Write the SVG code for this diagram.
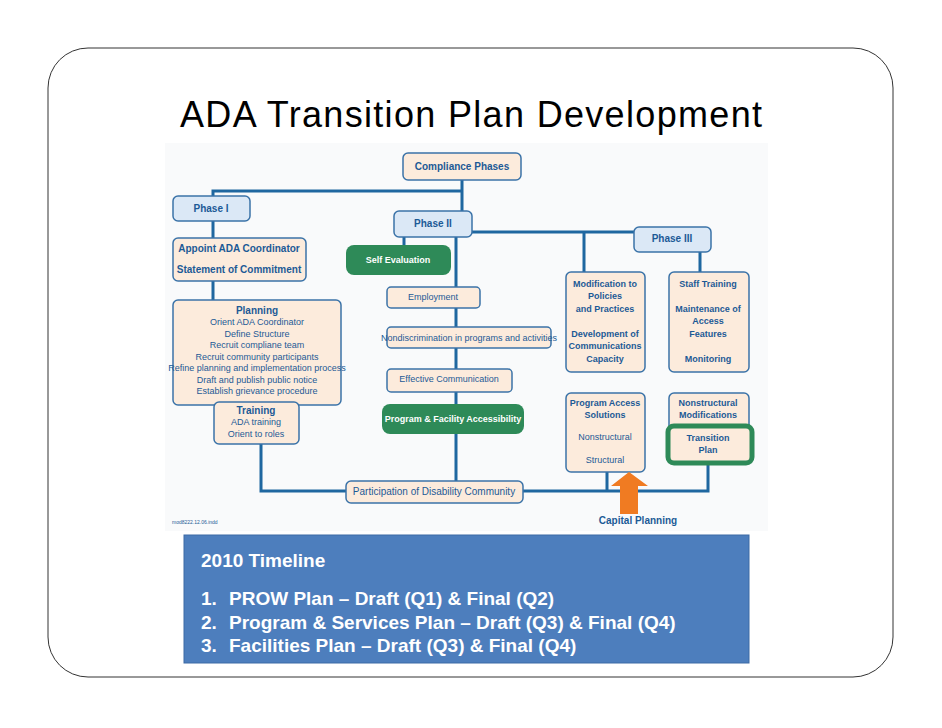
<svg xmlns="http://www.w3.org/2000/svg" width="942" height="728" viewBox="0 0 942 728">
<style>
.ln{stroke:#1f67a0;stroke-width:3;fill:none}
.bx{fill:#fcebdc;stroke:#3b73a8;stroke-width:1.5}
.ph{fill:#dbe8f6;stroke:#3b73a8;stroke-width:1.5}
.gr{fill:#2e8a58;stroke:none}
text{font-family:"Liberation Sans Narrow","Liberation Sans",Arial,sans-serif;fill:#1c5a96;text-anchor:middle}
.b{font-weight:bold}
.s{font-size:9px}
.m{font-size:10px}
.w{fill:#fff;font-weight:bold;font-family:"Liberation Sans",Arial,sans-serif;font-size:9px}
.tl{font-family:"Liberation Sans",Arial,sans-serif;fill:#fff;font-weight:bold;font-size:19px;text-anchor:start}
</style>
<rect x="0" y="0" width="942" height="728" fill="#fff"/>
<rect x="48" y="48" width="845" height="629" rx="40" fill="#fff" stroke="#333" stroke-width="1"/>
<text x="471" y="127" style="font-family:'Liberation Sans',Arial,sans-serif;font-size:36px;fill:#000" textLength="582">ADA Transition Plan Development</text>
<rect x="165" y="143" width="603" height="388" fill="#f9fafb"/>
<g id="connectors">
<path class="ln" d="M462 180V211M213 196V191H462M213 221V238M213 281V300M261 444V491H346M404 237V245M456 237V481M472 232H634M584 232V272M700 252V272M523 491H708V464M607 472V491"/>
</g>
<g id="compliance"><rect class="bx" x="403" y="153" width="118" height="27" rx="5"/><text class="b m" x="462" y="170">Compliance Phases</text></g>
<g id="phase1"><rect class="ph" x="173" y="196" width="77" height="25" rx="5"/><text class="b m" x="211" y="212">Phase I</text></g>
<g id="phase2"><rect class="ph" x="394" y="211" width="78" height="26" rx="5"/><text class="b m" x="433" y="227">Phase II</text></g>
<g id="phase3"><rect class="ph" x="634" y="227" width="77" height="25" rx="5"/><text class="b m" x="672" y="242">Phase III</text></g>
<g id="appoint"><rect class="bx" x="173" y="238" width="133" height="43" rx="5"/><text class="b m" x="239" y="252">Appoint ADA Coordinator</text><text class="b m" x="239" y="273">Statement of Commitment</text></g>
<g id="planning"><rect class="bx" x="173" y="300" width="168" height="105" rx="5"/>
<text class="b m" x="257" y="314">Planning</text>
<text class="s" x="257" y="325">Orient ADA Coordinator</text>
<text class="s" x="257" y="337">Define Structure</text>
<text class="s" x="257" y="348">Recruit compliane team</text>
<text class="s" x="257" y="360">Recruit community participants</text>
<text class="s" x="257" y="371">Refine planning and implementation process</text>
<text class="s" x="257" y="383">Draft and publish public notice</text>
<text class="s" x="257" y="394">Establish grievance procedure</text></g>
<g id="training"><rect class="bx" x="214" y="402" width="85" height="42" rx="5"/><text class="b m" x="256" y="414">Training</text><text class="s" x="256" y="425">ADA training</text><text class="s" x="256" y="437">Orient to roles</text></g>
<g id="selfeval"><rect class="gr" x="346" y="245" width="105" height="30" rx="8"/><text class="w" x="398" y="263">Self Evaluation</text></g>
<g id="employment"><rect class="bx" x="387" y="287" width="93" height="21" rx="4"/><text class="s" x="433" y="300">Employment</text></g>
<g id="nondisc"><rect class="bx" x="387" y="327" width="164" height="21" rx="4"/><text class="s" x="469" y="341">Nondiscrimination in programs and activities</text></g>
<g id="effcomm"><rect class="bx" x="387" y="369" width="125" height="23" rx="4"/><text class="s" x="449" y="382">Effective Communication</text></g>
<g id="progfac"><rect class="gr" x="382" y="404" width="142" height="30" rx="8"/><text class="w" x="453" y="422">Program &amp; Facility Accessibility</text></g>
<g id="particip"><rect class="bx" x="346" y="481" width="177" height="22" rx="5"/><text class="m" x="434" y="495">Participation of Disability Community</text></g>
<g id="modification"><rect class="bx" x="566" y="272" width="79" height="100" rx="5"/>
<text class="b s" x="605" y="287">Modification to</text><text class="b s" x="605" y="299">Policies</text><text class="b s" x="605" y="312">and Practices</text>
<text class="b s" x="605" y="337">Development of</text><text class="b s" x="605" y="349">Communications</text><text class="b s" x="605" y="362">Capacity</text></g>
<g id="stafftraining"><rect class="bx" x="669" y="272" width="80" height="100" rx="5"/>
<text class="b s" x="708" y="287">Staff Training</text><text class="b s" x="708" y="312">Maintenance of</text><text class="b s" x="708" y="324">Access</text><text class="b s" x="708" y="337">Features</text><text class="b s" x="708" y="362">Monitoring</text></g>
<g id="progaccess"><rect class="bx" x="566" y="393" width="79" height="79" rx="5"/>
<text class="b s" x="605" y="406">Program Access</text><text class="b s" x="605" y="418">Solutions</text><text class="s" x="605" y="440">Nonstructural</text><text class="s" x="605" y="463">Structural</text></g>
<g id="nonstruct"><rect class="bx" x="669" y="393" width="80" height="60" rx="5"/>
<text class="b s" x="708" y="406">Nonstructural</text><text class="b s" x="708" y="418">Modifications</text></g>
<g id="transition"><rect x="668" y="426" width="84" height="37" rx="6" fill="#fcebdc" stroke="#2e8a58" stroke-width="5"/>
<text class="b s" x="708" y="441">Transition</text><text class="b s" x="708" y="453">Plan</text></g>
<g id="capital"><path d="M620 514V486H611L629 472L648 486H638V514Z" fill="#f07b22"/><text class="b m" x="638" y="524">Capital Planning</text></g>
<text x="172" y="524" style="font-size:5px;text-anchor:start">mod8222.12.06.indd</text>
<g id="timeline"><rect x="184" y="535" width="565" height="128" fill="#4d7ebd" stroke="#3d6aa5"/>
<text class="tl" x="201" y="567">2010 Timeline</text>
<text class="tl" x="201" y="605">1.</text><text class="tl" x="229" y="605">PROW Plan – Draft (Q1) &amp; Final (Q2)</text>
<text class="tl" x="201" y="629">2.</text><text class="tl" x="229" y="629">Program &amp; Services Plan – Draft (Q3) &amp; Final (Q4)</text>
<text class="tl" x="201" y="652">3.</text><text class="tl" x="229" y="652">Facilities Plan – Draft (Q3) &amp; Final (Q4)</text></g>
</svg>
